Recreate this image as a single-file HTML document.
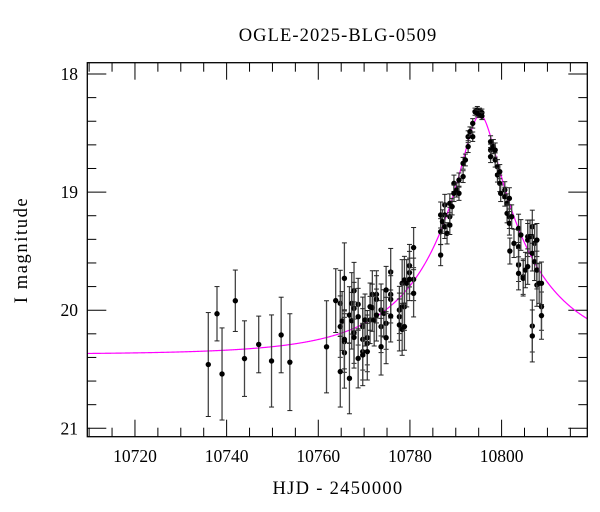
<!DOCTYPE html>
<html><head><meta charset="utf-8"><style>
html,body{margin:0;padding:0;background:#fff;}
svg{display:block;font-family:"Liberation Serif",serif;}
</style></head><body>
<svg id="chart" width="600" height="512" viewBox="0 0 600 512" xmlns="http://www.w3.org/2000/svg">
<text x="338" y="41" text-anchor="middle" font-size="18.5" letter-spacing="1.1">OGLE-2025-BLG-0509</text>
<text x="338" y="494" text-anchor="middle" font-size="18.5" letter-spacing="1.3">HJD - 2450000</text>
<text x="0" y="0" transform="translate(27,250) rotate(-90)" text-anchor="middle" font-size="18.5" letter-spacing="1.6">I magnitude</text>
<g id="ticks"></g>
<g id="model"></g>
<g id="points"></g>
<rect x="87.3" y="62.7" width="500" height="374" fill="none" stroke="#000" stroke-width="1.3"/>
</svg>
<script>
const xTicks = [10720, 10740, 10760, 10780, 10800];
const yTicks = [18, 19, 20, 21];
const modelParams = [10795.3, 0.156, 23, 20.375]; // t0, u0, tE, baseline mag
const times = [10736.0,10737.9,10739.0,10741.9,10743.9,10747.0,10749.8,10751.9,10753.8,10761.8,
10763.8,10764.8,10764.8,10764.8,10765.2,10765.7,10765.7,10765.7,10765.7,10766.8,10766.8,10767.3,10767.3,
10767.8,10767.8,10767.8,10767.8,10768.7,10768.7,10768.7,10769.7,10769.7,10769.7,10769.7,10770.2,
10770.7,10770.7,10770.7,10771.3,10771.3,10771.8,10771.8,10772.2,10772.7,10772.7,10772.7,
10773.7,10773.7,10773.7,10774.3,10774.8,10774.8,10774.8,10775.8,10775.8,10775.8,10775.8,
10777.7,10777.7,10777.7,10778.3,10778.3,10778.3,10778.8,10778.8,10778.8,10779.3,10779.9,10779.9,10779.9,
10780.8,10780.8,10780.8,
10786.7,10786.7,10786.7,10787.1,10787.6,10787.6,10787.6,10788.1,10788.7,10788.7,10788.7,10789.2,
10789.6,10789.6,10790.2,10790.7,10790.7,10791.6,10791.6,10792.1,10792.7,10792.7,10793.1,10793.7,10793.7,
10794.2,10794.7,10794.7,10795.2,10795.2,10795.7,10795.7,
10797.6,10797.6,10797.6,10798.2,10798.6,10798.6,10799.1,10799.1,10799.6,10799.6,10799.8,
10800.7,10800.7,10801.2,10801.2,10801.7,10801.7,10801.7,10801.8,10802.2,10802.7,
10803.7,10803.7,10803.7,10803.7,10804.2,10804.7,10804.7,10805.2,10805.7,10805.7,10805.7,10806.2,
10806.7,10806.7,10806.7,10806.7,10806.7,10807.2,10807.2,10807.7,10807.7,10807.7,10808.2,10808.7,10808.7,10808.7];
const mags = [20.46,20.03,20.54,19.92,20.41,20.29,20.43,20.21,20.44,20.31,
19.919,19.942,20.139,20.520,20.092,19.730,20.266,20.360,20.247,20.041,20.577,19.942,20.089,
19.835,19.984,20.190,20.230,19.950,20.055,20.408,20.139,20.247,20.351,20.379,20.083,
20.233,20.281,20.351,20.083,19.970,19.866,19.979,20.083,19.866,19.908,20.041,
19.998,20.139,20.309,20.027,19.829,20.111,20.233,19.677,19.866,19.908,20.049,
19.998,20.055,20.125,19.772,19.970,20.162,19.744,19.970,20.139,19.772,19.623,19.682,19.739,
19.470,19.739,19.857,
19.194,19.335,19.533,19.250,19.109,19.194,19.293,19.349,19.095,19.208,19.279,19.123,
18.926,19.010,18.982,18.898,19.010,18.756,18.869,18.728,18.531,18.615,18.488,18.418,18.531,
18.319,18.305,18.333,18.319,18.339,18.327,18.356,
18.573,18.644,18.700,18.615,18.644,18.728,18.785,18.855,18.827,18.926,19.010,
18.982,19.039,19.095,19.180,19.053,19.208,19.264,19.499,19.208,19.434,
19.307,19.462,19.617,19.688,19.363,19.716,19.730,19.660,19.377,19.406,19.631,19.377,
19.293,19.377,19.518,20.134,20.218,19.434,19.589,19.406,19.787,19.660,19.772,19.970,20.046,19.772];
const errs = [0.44,0.23,0.39,0.26,0.32,0.24,0.39,0.32,0.41,0.39,
0.27,0.28,0.26,0.3,0.25,0.3,0.26,0.3,0.25,0.24,0.3,0.26,0.24,
0.24,0.22,0.26,0.26,0.22,0.24,0.25,0.25,0.26,0.24,0.26,0.22,
0.23,0.24,0.24,0.2,0.2,0.2,0.2,0.22,0.2,0.2,0.22,
0.22,0.22,0.24,0.2,0.2,0.22,0.22,0.2,0.2,0.2,0.22,
0.2,0.2,0.22,0.2,0.2,0.22,0.2,0.2,0.2,0.2,0.18,0.18,0.18,
0.17,0.18,0.2,
0.11,0.11,0.09,0.1,0.09,0.1,0.1,0.09,0.08,0.08,0.08,0.07,
0.07,0.07,0.06,0.06,0.06,0.05,0.05,0.05,0.05,0.05,0.04,0.04,0.04,
0.03,0.03,0.03,0.03,0.03,0.03,0.03,
0.05,0.05,0.05,0.06,0.06,0.06,0.06,0.06,0.06,0.07,0.07,
0.07,0.08,0.08,0.08,0.09,0.1,0.1,0.11,0.1,0.12,
0.12,0.14,0.14,0.14,0.13,0.15,0.15,0.15,0.14,0.14,0.15,0.14,
0.14,0.14,0.15,0.22,0.22,0.16,0.16,0.14,0.18,0.16,0.17,0.2,0.2,0.18];

const X0 = 87.3, X1 = 587.3, Y0 = 62.7, Y1 = 436.7;
const tMin = 10709.6, tMax = 10818.7;
const xs = t => X0 + (t - tMin) / (tMax - tMin) * (X1 - X0);
const ys = m => 74 + (m - 18) * 118.1;
const NS = "http://www.w3.org/2000/svg";
function mk(tag, attrs, parent) {
  const el = document.createElementNS(NS, tag);
  for (const k in attrs) el.setAttribute(k, attrs[k]);
  parent.appendChild(el);
  return el;
}
const tg = document.getElementById('ticks');
for (let t = 10710; t <= 10818; t += 5) {
  const major = (t % 20 === 0);
  const L = major ? 17 : 9;
  const x = xs(t);
  const a = mk('line', {x1:x, x2:x, y1:Y1, y2:Y1-L, stroke:'#000', 'stroke-width':1}, tg);
  
  
  const b = mk('line', {x1:x, x2:x, y1:Y0, y2:Y0+L, stroke:'#000', 'stroke-width':1}, tg);
  
  
}
xTicks.forEach(t => {
  const tx = mk('text', {x:xs(t), y:462, 'text-anchor':'middle', 'font-size':17.5}, tg);
  tx.textContent = t;
  
  
});
for (let i = 0; i <= 15; i++) {
  const m = 18 + i * 0.2;
  const major = (i % 5 === 0);
  const L = major ? 19 : 9;
  const y = ys(m);
  const a = mk('line', {x1:X0, x2:X0+L, y1:y, y2:y, stroke:'#000', 'stroke-width':1}, tg);
  
  
  const b = mk('line', {x1:X1, x2:X1-L, y1:y, y2:y, stroke:'#000', 'stroke-width':1}, tg);
  
  
}
yTicks.forEach(m => {
  const tx = mk('text', {x:78, y:ys(m)+6, 'text-anchor':'end', 'font-size':17.5}, tg);
  tx.textContent = m;
  
  
});
function modelMag(t) {
  const [t0, u0, tE, base] = modelParams;
  const tau = (t - t0) / tE;
  const u = Math.sqrt(u0*u0 + tau*tau);
  const A = (u*u + 2) / (u * Math.sqrt(u*u + 4));
  return base - 2.5 * Math.log10(A);
}
let d = '';
for (let px = X0; px <= X1; px += 0.5) {
  const t = tMin + (px - X0) / (X1 - X0) * (tMax - tMin);
  d += (d ? 'L' : 'M') + px.toFixed(2) + ',' + ys(modelMag(t)).toFixed(2);
}
const mp = mk('path', {d:d, fill:'none', stroke:'#ff00ff', 'stroke-width':1.2}, document.getElementById('model'));


const pg = document.getElementById('points');
times.forEach((t, i) => {
  const x = xs(t), y = ys(mags[i]), ya = ys(mags[i]-errs[i]), yb = ys(mags[i]+errs[i]);
  const g = mk('g', {}, pg);
  
  
  mk('line', {x1:x, x2:x, y1:ya, y2:yb, stroke:'#444', 'stroke-width':1.3}, g);
  mk('line', {x1:x-2.5, x2:x+2.5, y1:ya, y2:ya, stroke:'#222', 'stroke-width':1}, g);
  mk('line', {x1:x-2.5, x2:x+2.5, y1:yb, y2:yb, stroke:'#222', 'stroke-width':1}, g);
  mk('circle', {cx:x, cy:y, r:2.7, fill:'#000'}, g);
});
</script>
</body></html>
